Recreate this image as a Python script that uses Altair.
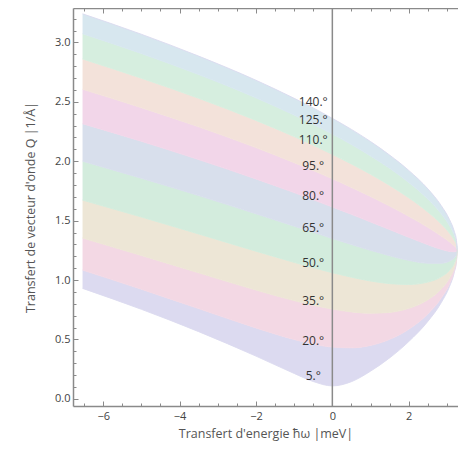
import altair as alt
import pandas as pd

# Energy transfer samples (meV)
omega = [-6.54, -5.0, -3.5, -2.0, -1.0, -0.5, 0.0, 0.5, 1.0, 1.5, 2.0, 2.5, 2.85, 3.07, 3.19, 3.25, 3.27]

# Q values (1/Å) for each scattering angle, read along omega
angles = ["5", "20", "35", "50", "65", "80", "95", "110", "125", "140"]
q_5 = [0.930, 0.754, 0.566, 0.360, 0.214, 0.146, 0.109, 0.145, 0.233, 0.345, 0.482, 0.652, 0.809, 0.947, 1.061, 1.159, 1.257]
q_20 = [1.084, 0.923, 0.760, 0.597, 0.500, 0.461, 0.436, 0.430, 0.450, 0.501, 0.586, 0.715, 0.848, 0.970, 1.074, 1.165, 1.257]
q_35 = [1.354, 1.207, 1.061, 0.916, 0.827, 0.788, 0.756, 0.732, 0.721, 0.728, 0.762, 0.834, 0.925, 1.018, 1.101, 1.178, 1.257]
q_50 = [1.673, 1.531, 1.388, 1.243, 1.149, 1.104, 1.062, 1.024, 0.992, 0.970, 0.963, 0.983, 1.027, 1.083, 1.140, 1.196, 1.257]
q_65 = [2.001, 1.857, 1.711, 1.558, 1.454, 1.402, 1.350, 1.299, 1.250, 1.205, 1.166, 1.142, 1.142, 1.160, 1.187, 1.218, 1.257]
q_80 = [2.316, 2.168, 2.014, 1.851, 1.736, 1.676, 1.615, 1.553, 1.489, 1.425, 1.360, 1.298, 1.259, 1.241, 1.238, 1.243, 1.257]
q_95 = [2.606, 2.451, 2.290, 2.115, 1.988, 1.922, 1.853, 1.780, 1.704, 1.623, 1.537, 1.444, 1.371, 1.321, 1.289, 1.269, 1.257]
q_110 = [2.861, 2.699, 2.530, 2.344, 2.208, 2.135, 2.058, 1.977, 1.891, 1.797, 1.693, 1.573, 1.473, 1.394, 1.337, 1.294, 1.257]
q_125 = [3.074, 2.907, 2.730, 2.534, 2.389, 2.311, 2.229, 2.141, 2.045, 1.941, 1.822, 1.682, 1.559, 1.457, 1.379, 1.315, 1.257]
q_140 = [3.241, 3.069, 2.885, 2.682, 2.530, 2.449, 2.361, 2.268, 2.166, 2.052, 1.923, 1.768, 1.627, 1.508, 1.413, 1.333, 1.257]

# Curve labels
label_text = ["140.°", "125.°", "110.°", "95.°", "80.°", "65.°", "50.°", "35.°", "20.°", "5.°"]
label_q = [2.50, 2.35, 2.18, 1.96, 1.71, 1.44, 1.14, 0.82, 0.49, 0.19]
label_omega = [-0.5] * len(label_text)

# Vertical reference line
vline_x = [0.0]

# Ticks
x_major = [-6, -4, -2, 0, 2]
x_minor = [-6.5, -6, -5.5, -5, -4.5, -4, -3.5, -3, -2.5, -2, -1.5, -1, -0.5, 0, 0.5, 1, 1.5, 2, 2.5, 3]
y_major = [0.0, 0.5, 1.0, 1.5, 2.0, 2.5, 3.0]
y_minor = [round(i * 0.1, 1) for i in range(0, 33)]

band_colors = ["#dcdaf0", "#f3d8e4", "#ede6d6", "#d3ecdd", "#d8dfec",
               "#f2d6e9", "#f3e2da", "#d6eedf", "#d7e7ef"]
line_colors = ["#a9a7dc", "#df93b0", "#cdbd8e", "#8fd0a6", "#9cb0d8",
               "#dc98c6", "#e6b59f", "#95d4ab", "#98c4dc", "#d6a3d8"]

curves = [q_5, q_20, q_35, q_50, q_65, q_80, q_95, q_110, q_125, q_140]

band_names = [f"{angles[i]}-{angles[i+1]}" for i in range(len(angles) - 1)]
area_rows = []
for b in range(len(angles) - 1):
    for j, w in enumerate(omega):
        area_rows.append({"band": band_names[b], "omega": w,
                          "lo": curves[b][j], "hi": curves[b + 1][j]})
area_df = pd.DataFrame(area_rows)

line_rows = []
for a, c in zip(angles, curves):
    for w, q in zip(omega, c):
        line_rows.append({"angle": a, "omega": w, "q": q})
line_df = pd.DataFrame(line_rows)

label_df = pd.DataFrame({"omega": label_omega, "q": label_q, "label": label_text})
vline_df = pd.DataFrame({"x": vline_x})

FONT = "Open Sans"
AX = "#8a8a8a"
xs = alt.Scale(domain=[-6.79, 3.29], nice=False, zero=False)
ys = alt.Scale(domain=[-0.06, 3.29], nice=False, zero=False)

x_main = alt.Axis(values=x_major, format="d", ticks=False, grid=False,
                  domainColor=AX, domainWidth=1.5, labelFont=FONT, labelFontSize=11,
                  labelColor="#444", labelPadding=4,
                  title="Transfert d'energie ħω |meV|", titleFont=FONT,
                  titleFontSize=12.5, titleFontWeight="normal", titleColor="#555",
                  titlePadding=6)
y_main = alt.Axis(values=y_major, format=".1f", ticks=False, grid=False,
                  domainColor=AX, domainWidth=1.5, labelFont=FONT, labelFontSize=11,
                  labelColor="#444", labelPadding=3,
                  title="Transfert de vecteur d'onde Q |1/Å|", titleFont=FONT,
                  titleFontSize=12.5, titleFontWeight="normal", titleColor="#555",
                  titlePadding=17)


def tick_axis(orient, vals, size):
    return alt.Axis(orient=orient, values=vals, offset=-size, tickSize=size,
                    tickColor=AX, tickWidth=1, labels=False, domain=False,
                    grid=False, title=None, zindex=1)


areas = alt.Chart(area_df).mark_area(interpolate="monotone", opacity=1).encode(
    x=alt.X("omega:Q", scale=xs, axis=x_main),
    y=alt.Y("lo:Q", scale=ys, axis=y_main),
    y2="hi:Q",
    color=alt.Color("band:N", scale=alt.Scale(domain=band_names, range=band_colors), legend=None),
)

lines = alt.Chart(line_df).mark_line(interpolate="monotone", strokeWidth=1, opacity=0.9).encode(
    x=alt.X("omega:Q", scale=xs, axis=tick_axis("bottom", x_major, 5)),
    y=alt.Y("q:Q", scale=ys, axis=tick_axis("left", y_major, 5)),
    color=alt.Color("angle:N", scale=alt.Scale(domain=angles, range=line_colors), legend=None),
)

labels = alt.Chart(label_df).mark_text(font=FONT, fontSize=12, color="#333",
                                       align="center", baseline="middle").encode(
    x=alt.X("omega:Q", scale=xs, axis=tick_axis("bottom", x_minor, 3)),
    y=alt.Y("q:Q", scale=ys, axis=tick_axis("left", y_minor, 3)),
    text="label:N",
)

vline = alt.Chart(vline_df).mark_rule(color=AX, strokeWidth=1.5).encode(
    x=alt.X("x:Q", scale=xs,
            axis=alt.Axis(orient="top", ticks=False, labels=False, grid=False,
                          domainColor=AX, domainWidth=1.5, title=None)),
)
top_major = alt.Chart(vline_df).mark_rule(opacity=0).encode(
    x=alt.X("x:Q", scale=xs, axis=tick_axis("top", x_major, 5)),
)
top_minor = alt.Chart(vline_df).mark_rule(opacity=0).encode(
    x=alt.X("x:Q", scale=xs, axis=tick_axis("top", x_minor, 3)),
)

chart = alt.layer(areas, lines, labels, vline, top_major, top_minor).resolve_axis(
    x="independent", y="independent"
).properties(
    width=385, height=398,
    autosize=alt.AutoSizeParams(type="none"),
    padding={"left": 65, "top": 0, "right": 0, "bottom": 36},
).configure_view(strokeWidth=0)

chart.save("out.html", embed_options={"renderer": "svg", "actions": False})
